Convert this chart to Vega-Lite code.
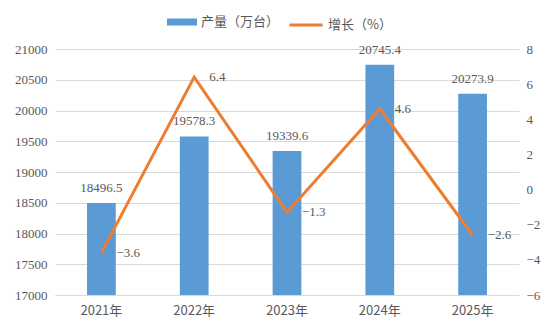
{
  "$schema": "https://vega.github.io/schema/vega-lite/v6.json",
  "width": 464,
  "height": 246,
  "autosize": {"type": "none"},
  "padding": {"left": 55, "top": 49, "right": 35, "bottom": 38},
  "background": "white",
  "config": {
    "font": "Liberation Serif",
    "view": {"stroke": null},
    "axis": {"labelColor": "#595959", "labelFontSize": 13, "labelFont": "Liberation Serif"},
    "legend": {"labelColor": "#595959", "labelFontSize": 13, "labelFont": "Noto Sans CJK SC", "padding": 0}
  },
  "data": {
    "values": [
      {"year": "2021年", "output": 18496.5, "growth": -3.6},
      {"year": "2022年", "output": 19578.3, "growth": 6.4},
      {"year": "2023年", "output": 19339.6, "growth": -1.3},
      {"year": "2024年", "output": 20745.4, "growth": 4.6},
      {"year": "2025年", "output": 20273.9, "growth": -2.6}
    ]
  },
  "encoding": {
    "x": {
      "field": "year", "type": "nominal", "sort": null,
      "scale": {"paddingInner": 0.69, "paddingOuter": 0.345},
      "axis": {"title": null, "labelAngle": 0, "ticks": false, "domainColor": "#D9D9D9", "labelPadding": 9, "grid": false, "labelFont": "Noto Sans CJK SC", "labelFontSize": 13, "labelColor": "#595959"}
    }
  },
  "layer": [
    {
      "encoding": {
        "y": {
          "field": "output", "type": "quantitative",
          "scale": {"domain": [17000, 21000], "zero": false, "nice": false},
          "axis": {"title": null, "values": [17000, 17500, 18000, 18500, 19000, 19500, 20000, 20500, 21000], "format": "d", "grid": true, "gridColor": "#D9D9D9", "domain": false, "ticks": false, "labelPadding": 8, "orient": "left", "labelFont": "Liberation Serif"}
        }
      },
      "layer": [
        {
          "mark": {"type": "bar", "clip": true},
          "encoding": {
            "y2": {"datum": 17000},
            "fill": {
              "datum": "产量（万台）", "type": "nominal",
              "scale": {"range": ["#5B9BD5"]},
              "legend": {"title": null, "orient": "none", "legendX": 112, "legendY": -42, "symbolType": "M-1,-0.233H1V0.233H-1Z", "symbolSize": 900, "symbolStrokeWidth": 0, "labelOffset": 4}
            }
          }
        },
        {
          "mark": {"type": "text", "color": "#595959", "fontSize": 13, "baseline": "alphabetic", "dy": -11, "font": "Liberation Serif"},
          "encoding": {"text": {"field": "output", "type": "quantitative", "format": ".1f"}}
        }
      ]
    },
    {
      "encoding": {
        "y": {
          "field": "growth", "type": "quantitative",
          "scale": {"domain": [-6, 8], "zero": false, "nice": false},
          "axis": {"title": null, "values": [-6, -4, -2, 0, 2, 4, 6, 8], "grid": false, "domain": false, "ticks": false, "labelPadding": 7, "orient": "right", "labelFont": "Liberation Serif"}
        }
      },
      "layer": [
        {
          "mark": {"type": "line", "strokeWidth": 3},
          "encoding": {
            "stroke": {
              "datum": "增长（%）", "type": "nominal",
              "scale": {"range": ["#ED7D31"]},
              "legend": {"title": null, "orient": "none", "legendX": 233, "legendY": -42, "symbolType": "stroke", "symbolSize": 1089, "symbolStrokeWidth": 3, "labelOffset": 4}
            }
          }
        },
        {
          "mark": {"type": "text", "color": "#595959", "fontSize": 13, "align": "left", "baseline": "middle", "dx": 15, "font": "Liberation Serif"},
          "encoding": {"text": {"field": "growth", "type": "quantitative", "format": ".1f"}}
        }
      ]
    }
  ],
  "resolve": {"scale": {"y": "independent"}}
}
